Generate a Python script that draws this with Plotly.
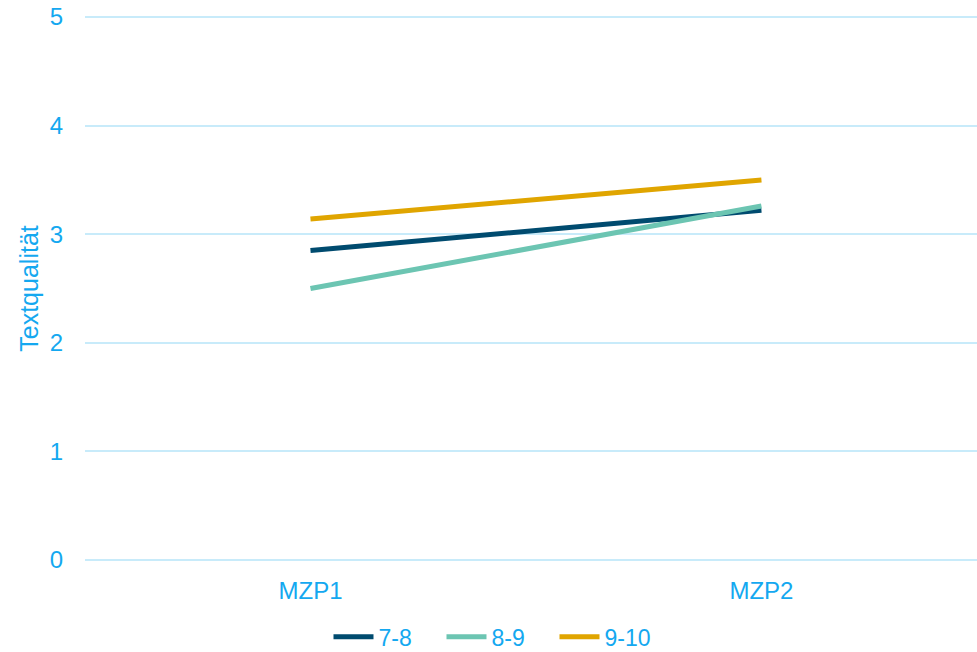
import plotly.graph_objects as go

categories = ["MZP1", "MZP2"]
series_names = ["7-8", "8-9", "9-10"]
values_78 = [2.85, 3.22]
values_89 = [2.50, 3.26]
values_910 = [3.14, 3.50]
colors = ["#004b6f", "#6cc5b2", "#e0a500"]

TXT = "#14a8f0"
FONT = "Liberation Sans, Arial, sans-serif"

fig = go.Figure()
for name, vals, col in zip(series_names, [values_78, values_89, values_910], colors):
    fig.add_trace(go.Scatter(x=categories, y=vals, name=name, mode="lines",
                             line=dict(color=col, width=5)))

fig.update_layout(
    width=977, height=652,
    margin=dict(l=85, r=0, t=16, b=91, autoexpand=False),
    paper_bgcolor="white", plot_bgcolor="white",
    font=dict(family=FONT, size=24, color=TXT),
    showlegend=True,
    legend=dict(orientation="h", x=0.463, xanchor="center", y=-0.139, yanchor="middle",
                font=dict(size=23, color=TXT), itemwidth=40, tracegroupgap=0,
                entrywidth=58, entrywidthmode="pixels"),
)
fig.update_xaxes(type="category", range=[-0.5, 1.478], showgrid=False, zeroline=False,
                 showline=False, ticks="", ticklabelstandoff=13,
                 tickfont=dict(size=24, color=TXT))
fig.update_yaxes(range=[-0.01, 5.01], tickvals=[0, 1, 2, 3, 4, 5], showgrid=True,
                 gridcolor="#c8ebfa", gridwidth=1.5,
                 zeroline=False, showline=False, ticks="", ticklabelstandoff=21,
                 tickfont=dict(size=24, color=TXT),
                 title=dict(text="Textqualität", font=dict(size=25, color=TXT), standoff=3))

fig.write_html("out.html", config={"displayModeBar": False},
               post_script="document.body.style.margin='0';document.body.style.overflow='hidden';")
